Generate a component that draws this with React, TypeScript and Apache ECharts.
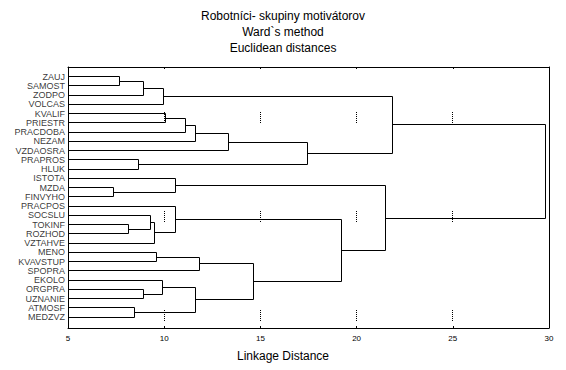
import React, { useEffect, useRef } from 'react';
import * as echarts from 'echarts';

// Leaves, top to bottom
const leaves = [
  'ZAUJ', 'SAMOST', 'ZODPO', 'VOLCAS', 'KVALIF', 'PRIESTR', 'PRACDOBA', 'NEZAM',
  'VZDAOSRA', 'PRAPROS', 'HLUK', 'ISTOTA', 'MZDA', 'FINVYHO', 'PRACPOS', 'SOCSLU',
  'TOKINF', 'ROZHOD', 'VZTAHVE', 'MENO', 'KVAVSTUP', 'SPOPRA', 'EKOLO', 'ORGPRA',
  'UZNANIE', 'ATMOSF', 'MEDZVZ',
];

// Linkage (scipy convention: id < 27 is a leaf, id >= 27 is cluster id-27)
const linkLeft = [0, 27, 28, 4, 30, 31, 32, 9, 33, 29, 12, 11, 16, 15, 40, 14, 19, 43, 23, 22, 25, 46, 44, 42, 38, 36];
const linkRight = [1, 2, 3, 5, 6, 7, 8, 10, 34, 35, 13, 37, 17, 39, 18, 41, 20, 21, 24, 45, 26, 47, 48, 49, 50, 51];
const linkHeight = [
  7.70, 8.95, 9.94, 10.08, 11.09, 11.61, 13.33, 8.64, 17.43, 21.85,
  7.35, 10.61, 8.13, 9.28, 9.47, 10.57, 9.59, 11.84, 8.95, 9.90,
  8.44, 11.61, 14.63, 19.22, 21.48, 29.82,
];

const xTicks = [5, 10, 15, 20, 25, 30];
const gridXs = [10, 15, 20, 25];
const gridBands = [[3.8, 5.0], [14.5, 15.7], [25.2, 26.4]];

const titleLines = ['Robotníci- skupiny motivátorov', 'Ward`s method', 'Euclidean distances'];
const xName = 'Linkage Distance';

const FONT = "'Liberation Sans', Arial, Helvetica, sans-serif";

function buildSegments() {
  const n = leaves.length;
  const pos: { x: number; y: number }[] = [];
  const get = (id: number) => (id < n ? { x: xTicks[0], y: id } : pos[id - n]);
  const segs: number[][] = [];
  for (let k = 0; k < linkHeight.length; k++) {
    const a = get(linkLeft[k]);
    const b = get(linkRight[k]);
    const h = linkHeight[k];
    segs.push([a.x, a.y, h, b.y, b.x]);
    pos.push({ x: h, y: (a.y + b.y) / 2 });
  }
  return segs;
}

const crisp = (v: number) => Math.floor(v) + 0.5;

export default function App() {
  const ref = useRef<HTMLDivElement>(null);
  useEffect(() => {
    if (!ref.current) return;
    const chart = echarts.init(ref.current, undefined, { renderer: 'svg' });
    const segs = buildSegments();
    const gridData: number[][] = [];
    gridXs.forEach((x) => gridBands.forEach((b) => gridData.push([x, b[0], b[1]])));

    const yCommon = {
      type: 'value' as const,
      inverse: true,
      min: -1.05,
      max: 27.17,
      axisLine: { show: true, lineStyle: { color: '#000', width: 1 } },
      axisTick: { show: false },
      axisLabel: { show: false },
      splitLine: { show: false },
    };
    const xCommon = {
      type: 'value' as const,
      min: 5,
      max: 30,
      interval: 5,
      axisLine: { show: true, onZero: false, lineStyle: { color: '#000', width: 1 } },
      axisTick: { show: true, inside: true, length: 2, lineStyle: { color: '#000' } },
      splitLine: { show: false },
    };

    chart.setOption({
      animation: false,
      backgroundColor: '#fff',
      title: [
        {
          text: titleLines.join('\n'),
          left: 'center',
          top: 8,
          padding: 0,
          textStyle: { fontFamily: FONT, fontSize: 12, fontWeight: 'normal', color: '#000', lineHeight: 16 },
        },
        {
          text: xName,
          left: 'center',
          top: 350,
          padding: 0,
          textStyle: { fontFamily: FONT, fontSize: 12, fontWeight: 'normal', color: '#000' },
        },
      ],
      grid: { left: 68, right: 17, top: 67, bottom: 42, containLabel: false },
      xAxis: [
        {
          ...xCommon,
          position: 'bottom',
          axisLabel: { show: true, color: '#000', fontFamily: FONT, fontSize: 8, margin: 6 },
        },
        { ...xCommon, position: 'top', axisLabel: { show: false } },
      ],
      yAxis: [
        { ...yCommon, position: 'left' },
        { ...yCommon, position: 'right' },
      ],
      series: [
        {
          type: 'custom',
          silent: true,
          data: gridData,
          encode: { x: [0], y: [1, 2] },
          renderItem: (params: any, api: any) => {
            const p0 = api.coord([api.value(0), api.value(1)]);
            const p1 = api.coord([api.value(0), api.value(2)]);
            return {
              type: 'line',
              shape: { x1: crisp(p0[0]), y1: Math.round(p0[1]), x2: crisp(p1[0]), y2: Math.round(p1[1]) },
              style: { stroke: '#000', lineWidth: 1, lineDash: [1, 1] },
            };
          },
        },
        {
          type: 'custom',
          silent: true,
          data: segs,
          encode: { x: [0, 2, 4], y: [1, 3] },
          renderItem: (params: any, api: any) => {
            const pts = [
              api.coord([api.value(0), api.value(1)]),
              api.coord([api.value(2), api.value(1)]),
              api.coord([api.value(2), api.value(3)]),
              api.coord([api.value(4), api.value(3)]),
            ].map((p: number[]) => [crisp(p[0]), crisp(p[1])]);
            return {
              type: 'polyline',
              shape: { points: pts },
              style: { stroke: '#000', lineWidth: 1, fill: null },
            };
          },
        },
        {
          type: 'scatter',
          silent: true,
          symbolSize: 0,
          data: leaves.map((name, i) => [xTicks[0], i, name]),
          label: {
            show: true,
            position: 'left',
            distance: 3,
            formatter: (p: any) => p.data[2],
            color: '#000',
            fontFamily: FONT,
            fontSize: 9,
          },
        },
      ],
    });
    return () => chart.dispose();
  }, []);

  return (
    <div
      ref={ref}
      style={{ position: 'fixed', left: 0, top: 0, width: 566, height: 370, background: '#fff' }}
    />
  );
}
